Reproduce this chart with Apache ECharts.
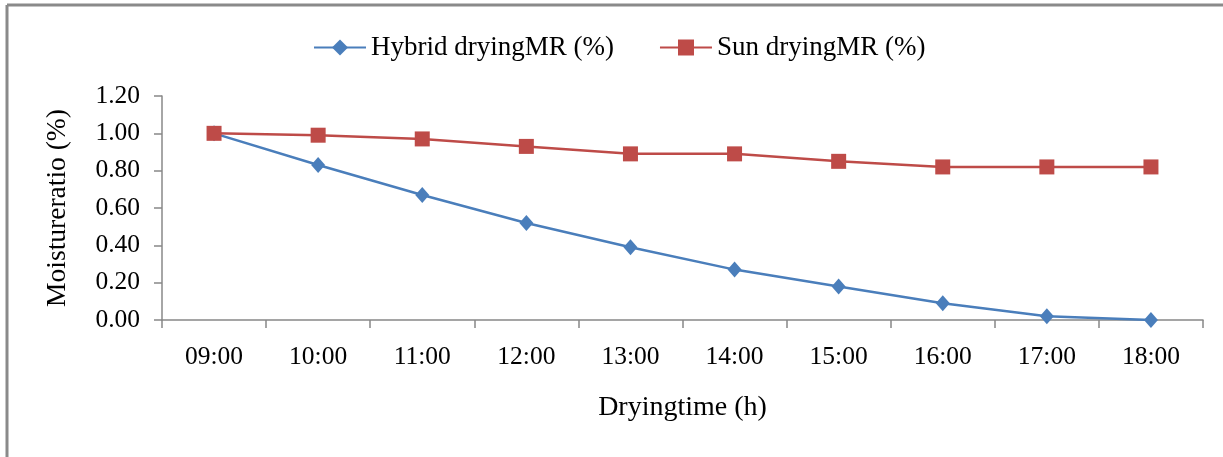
<!DOCTYPE html>
<html>
<head>
<meta charset="utf-8">
<script src="https://cdn.jsdelivr.net/npm/echarts@6/dist/echarts.min.js"></script>
<style>
html,body{margin:0;padding:0;background:#fff;}
#chart{width:1223px;height:457px;}
</style>
</head>
<body>
<div id="chart"></div>
<script>
const categories = ['09:00','10:00','11:00','12:00','13:00','14:00','15:00','16:00','17:00','18:00'];
const hybridMR = [1.00, 0.83, 0.67, 0.52, 0.39, 0.27, 0.18, 0.09, 0.02, 0.00];
const sunMR = [1.00, 0.99, 0.97, 0.93, 0.89, 0.89, 0.85, 0.82, 0.82, 0.82];
const seriesNames = ['Hybrid dryingMR (%)', 'Sun dryingMR (%)'];
const yAxisTitle = 'Moistureratio (%)';
const xAxisTitle = 'Dryingtime (h)';

const FONT = '"Liberation Serif", "Times New Roman", serif';
const chart = echarts.init(document.getElementById('chart'), null, {renderer: 'canvas'});
chart.setOption({
  animation: false,
  backgroundColor: '#ffffff',
  textStyle: {fontFamily: FONT, color: '#000'},
  graphic: [
    {type: 'line', shape: {x1: 7, y1: 5, x2: 1223, y2: 5}, style: {stroke: '#8a8a8a', lineWidth: 3}},
    {type: 'line', shape: {x1: 7, y1: 5, x2: 7, y2: 457}, style: {stroke: '#8a8a8a', lineWidth: 3}}
  ],
  legend: {
    top: 29,
    left: 308,
    itemWidth: 52,
    itemHeight: 20,
    itemGap: 45,
    textStyle: {fontFamily: FONT, fontSize: 27, color: '#000'},
    data: seriesNames
  },
  grid: {left: 162, right: 20, top: 96, bottom: 137, containLabel: false},
  xAxis: {
    type: 'category',
    data: categories,
    boundaryGap: true,
    name: xAxisTitle,
    nameLocation: 'middle',
    nameGap: 74,
    nameTextStyle: {fontFamily: FONT, fontSize: 28, color: '#000'},
    axisLine: {lineStyle: {color: '#888', width: 1.5}},
    axisTick: {show: true, length: 8, alignWithLabel: false, lineStyle: {color: '#888', width: 1.5}},
    axisLabel: {fontFamily: FONT, fontSize: 25.5, color: '#000', margin: 24},
    splitLine: {show: false}
  },
  yAxis: {
    type: 'value',
    min: 0,
    max: 1.2,
    interval: 0.2,
    name: yAxisTitle,
    nameLocation: 'middle',
    nameGap: 90,
    nameRotate: 90,
    nameTextStyle: {fontFamily: FONT, fontSize: 27.5, color: '#000'},
    axisLine: {show: true, lineStyle: {color: '#888', width: 1.5}},
    axisTick: {show: true, length: 8, lineStyle: {color: '#888', width: 1.5}},
    axisLabel: {fontFamily: FONT, fontSize: 25.5, color: '#000', margin: 22, formatter: v => v.toFixed(2)},
    splitLine: {show: false}
  },
  series: [
    {
      name: seriesNames[0],
      type: 'line',
      data: hybridMR,
      symbol: 'diamond',
      symbolSize: [14, 16],
      lineStyle: {color: '#4A7EBB', width: 2.5},
      itemStyle: {color: '#4A7EBB'},
      z: 2
    },
    {
      name: seriesNames[1],
      type: 'line',
      data: sunMR,
      symbol: 'rect',
      symbolSize: 15,
      lineStyle: {color: '#BE4B48', width: 2.5},
      itemStyle: {color: '#BE4B48'},
      z: 3
    }
  ]
});
</script>
</body>
</html>
